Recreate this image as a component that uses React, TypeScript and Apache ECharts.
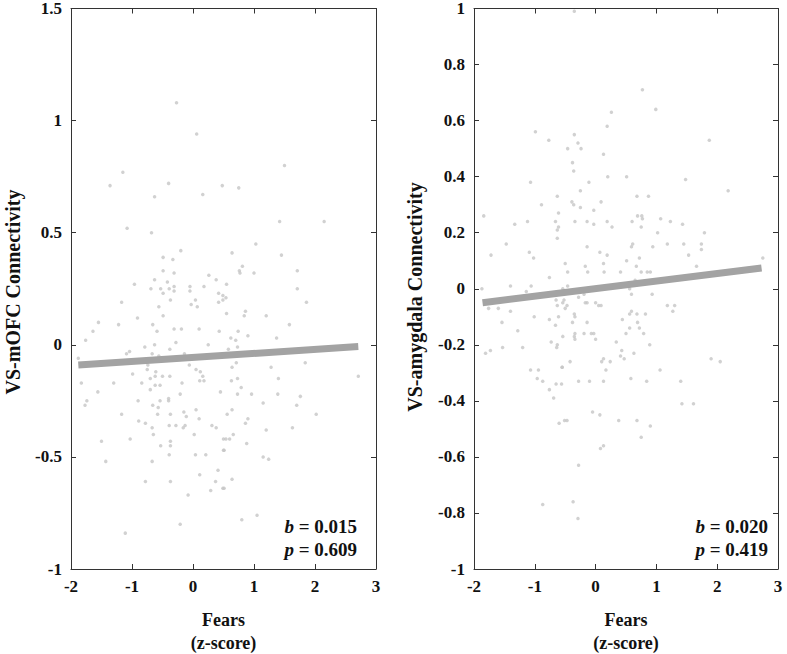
import React, { useEffect, useRef } from "react";
import * as echarts from "echarts";

const xTicks = [-2, -1, 0, 1, 2, 3];
const leftYRange = [-1, 1.5];
const rightYRange = [-1, 1];
const xLabel = ["Fears", "(z-score)"];
const leftYLabel = "VS-mOFC Connectivity";
const rightYLabel = "VS-amygdala Connectivity";
const leftStats = { b: "0.015", p: "0.609" };
const rightStats = { b: "0.020", p: "0.419" };

const leftFitX = [-1.88, 2.71];
const leftFitY = [-0.09, -0.008];
const rightFitX = [-1.86, 2.73];
const rightFitY = [-0.05, 0.074];

const leftPoints: number[][] = [
  [-0.27, 1.08], [0.06, 0.94], [-1.15, 0.77], [-1.36, 0.71], [-0.4, 0.72], [0.48, 0.71], [-0.63, 0.66], [0.16, 0.67],
  [-1.08, 0.52], [-0.68, 0.5], [1.5, 0.8], [0.75, 0.7], [1.42, 0.55], [2.15, 0.55],
  [-0.2, 0.42], [-0.49, 0.39], [-0.33, 0.38], [-0.49, 0.33], [-0.31, 0.32], [0.26, 0.31], [0.38, 0.29], [-0.96, 0.27],
  [-0.63, 0.29], [-0.42, 0.28], [-0.69, 0.25], [-0.53, 0.25], [-0.39, 0.25], [-0.31, 0.26], [-0.31, 0.24], [-0.49, 0.23],
  [-0.05, 0.26], [-0.05, 0.24], [0.18, 0.26], [0.42, 0.23], [0.49, 0.22], [0.49, 0.2], [0.42, 0.19], [-1.17, 0.19],
  [-0.37, 0.2], [0.04, 0.2], [-0.03, 0.18], [0.07, 0.17], [-0.56, 0.17], [-0.49, 0.13], [-0.91, 0.12], [-1.55, 0.1],
  [-1.22, 0.09], [-0.66, 0.09], [-1.64, 0.06], [-0.59, 0.06], [-0.31, 0.07], [-0.19, 0.07], [0.1, 0.07], [0.43, 0.06],
  [-1.76, 0.02], [-0.28, 0.01], [0.25, 0.0], [-1.04, -0.03], [-0.79, -0.01], [-0.63, 0.0], [-0.38, -0.02], [-1.09, -0.04],
  [-0.67, -0.04], [-0.56, -0.05], [-0.14, -0.04], [-1.88, -0.06], [-0.06, -0.09], [-0.74, -0.09], [-0.75, -0.11], [0.05, -0.11],
  [0.12, -0.12], [0.16, -0.14], [0.18, -0.16], [-0.99, -0.13], [-0.61, -0.12], [-0.7, -0.15], [-0.62, -0.14], [-0.5, -0.14],
  [-0.38, -0.14], [0.11, -0.16], [-1.3, -0.17], [-0.84, -0.17], [-0.18, -0.17], [-1.83, -0.17], [-0.62, -0.18], [-0.54, -0.18],
  [-0.7, -0.2], [-1.56, -0.21], [-0.21, -0.22], [0.45, -0.21], [-0.4, -0.24],
  [1.03, 0.45], [0.64, 0.41], [1.45, 0.4], [0.81, 0.35], [0.76, 0.33], [0.77, 0.32], [1.0, 0.32], [1.71, 0.33],
  [0.55, 0.27], [1.71, 0.25], [0.54, 0.21], [1.86, 0.19], [0.86, 0.15], [0.55, 0.14], [0.84, 0.13], [1.2, 0.13],
  [1.58, 0.09], [0.74, 0.06], [0.9, 0.04], [0.62, 0.03], [0.7, 0.02], [1.37, 0.03], [0.73, -0.01], [0.58, -0.02],
  [0.71, -0.08], [0.64, -0.1], [1.28, -0.1], [1.84, -0.08], [2.71, -0.14], [1.4, -0.15], [0.73, -0.15], [0.63, -0.16],
  [0.79, -0.19], [0.73, -0.22], [0.96, -0.22], [1.39, -0.22], [1.76, -0.23],
  [-1.74, -0.25], [-1.77, -0.27], [-0.9, -0.25], [-0.66, -0.27], [-0.57, -0.28], [-0.54, -0.25], [-0.4, -0.25], [-1.17, -0.31],
  [-0.58, -0.31], [-0.37, -0.31], [-0.15, -0.3], [-0.11, -0.32], [0.05, -0.29], [0.1, -0.33], [-0.89, -0.34], [-0.78, -0.35],
  [-0.67, -0.37], [-0.65, -0.4], [-0.39, -0.36], [-0.28, -0.36], [-0.16, -0.37], [-0.13, -0.36], [0.31, -0.36], [0.38, -0.37],
  [0.02, -0.4], [0.5, -0.42], [-1.5, -0.43], [-1.03, -0.42], [-0.37, -0.43], [-0.53, -0.45], [-0.37, -0.45], [0.5, -0.47],
  [-0.39, -0.49], [0.04, -0.49], [0.21, -0.49], [-1.43, -0.52], [-0.67, -0.52], [0.41, -0.56], [0.11, -0.58], [-0.78, -0.61],
  [-0.37, -0.61], [0.37, -0.61], [0.29, -0.65], [0.49, -0.64], [-0.08, -0.67], [-0.21, -0.8], [-1.11, -0.84],
  [1.15, -0.26], [1.7, -0.27], [0.64, -0.29], [0.56, -0.31], [2.02, -0.31], [0.9, -0.33], [0.86, -0.35], [1.2, -0.38],
  [1.63, -0.37], [0.66, -0.4], [0.54, -0.42], [0.6, -0.42], [0.88, -0.44], [0.51, -0.47], [1.15, -0.5], [1.24, -0.51],
  [0.64, -0.6], [0.51, -0.64], [1.05, -0.76], [0.8, -0.78],
];

const rightPoints: number[][] = [
  [-0.35, 0.99], [0.26, 0.63], [0.19, 0.58], [-0.99, 0.56], [-0.35, 0.55], [-0.77, 0.53], [-0.29, 0.52], [-0.46, 0.5],
  [-0.24, 0.5], [0.13, 0.48], [-0.38, 0.45], [-0.36, 0.42], [0.2, 0.4], [0.51, 0.4], [-1.07, 0.38], [-0.11, 0.38],
  [0.77, 0.71], [0.99, 0.64], [1.87, 0.53], [1.48, 0.39],
  [-0.25, 0.35], [-0.63, 0.33], [-0.39, 0.31], [-0.36, 0.3], [-0.25, 0.29], [0.09, 0.31], [-0.89, 0.3], [-0.03, 0.28],
  [-0.61, 0.27], [-1.84, 0.26], [-1.12, 0.24], [-0.66, 0.24], [-0.34, 0.24], [-0.14, 0.24], [-1.33, 0.23], [-0.03, 0.23],
  [0.19, 0.24], [0.27, 0.22], [-0.61, 0.22], [-0.63, 0.21], [-0.63, 0.18], [-1.47, 0.16], [-0.14, 0.15], [-1.09, 0.13],
  [0.07, 0.13], [-1.72, 0.12], [-1.02, 0.11], [0.19, 0.12], [0.51, 0.1], [-0.5, 0.09], [0.13, 0.09], [-0.17, 0.08],
  [-0.13, 0.06], [-0.46, 0.06], [0.14, 0.06], [0.41, 0.06], [-0.76, 0.04], [-0.46, 0.01], [-0.54, 0.0], [-1.06, 0.01],
  [-1.4, 0.01], [-1.87, 0.0], [-1.14, -0.01], [-0.28, -0.03], [-0.19, -0.02], [-0.65, -0.04], [-0.52, -0.04], [-0.14, -0.05],
  [-0.17, -0.05], [0.0, -0.05], [0.09, -0.06], [0.05, -0.06], [-1.76, -0.07], [-1.6, -0.07], [-0.63, -0.06], [-0.54, -0.05],
  [-0.47, -0.06], [-0.5, -0.07], [-1.4, -0.08], [-1.01, -0.1], [-0.61, -0.1], [-0.35, -0.09], [-0.34, -0.1], [-0.76, -0.11],
  [0.44, -0.11], [-1.54, -0.12], [-0.66, -0.13], [-0.38, -0.12], [-0.14, -0.12], [-1.28, -0.15], [-0.34, -0.16], [-0.35, -0.17],
  [-0.19, -0.16], [-0.07, -0.16], [-0.03, -0.16], [0.5, -0.16], [-0.54, -0.17], [-0.34, -0.18], [0.0, -0.18], [-0.73, -0.19],
  [0.34, -0.19], [-0.63, -0.2], [-0.64, -0.21], [-1.53, -0.21], [-1.2, -0.21], [-1.73, -0.22], [-1.81, -0.23], [0.43, -0.22],
  [0.41, -0.24], [0.47, -0.25], [0.1, -0.26], [0.13, -0.25], [0.24, -0.26], [-0.42, -0.26], [-0.55, -0.28],
  [2.18, 0.35], [0.68, 0.33], [0.87, 0.33], [0.69, 0.26], [0.76, 0.26], [0.77, 0.25], [0.6, 0.24], [1.07, 0.25],
  [1.23, 0.24], [1.43, 0.23], [0.75, 0.22], [1.79, 0.2], [1.02, 0.2], [0.59, 0.15], [0.61, 0.16], [0.94, 0.15],
  [1.18, 0.16], [1.45, 0.16], [1.74, 0.16], [1.74, 0.14], [1.53, 0.12], [0.72, 0.11], [2.75, 0.11], [1.66, 0.08],
  [0.67, 0.08], [0.75, 0.06], [0.85, 0.06], [0.9, 0.06], [0.65, 0.03], [0.56, 0.0], [0.59, -0.02], [0.93, -0.02],
  [1.18, -0.06], [1.3, -0.06], [1.27, -0.08], [0.56, -0.09], [0.59, -0.08], [0.68, -0.09], [0.82, -0.09], [0.69, -0.12],
  [0.56, -0.14], [0.72, -0.14], [0.79, -0.16], [0.89, -0.2], [0.63, -0.23], [1.9, -0.25], [2.05, -0.26],
  [-1.07, -0.29], [-0.94, -0.29], [-0.55, -0.28], [0.17, -0.29], [-0.96, -0.32], [-0.87, -0.33], [-0.65, -0.34], [-0.56, -0.34],
  [-0.28, -0.33], [-0.1, -0.33], [0.13, -0.33], [-0.76, -0.36], [-0.69, -0.39], [-0.05, -0.44], [0.07, -0.45], [0.38, -0.47],
  [-0.6, -0.48], [-0.51, -0.47], [-0.47, -0.47], [0.13, -0.56], [0.08, -0.57], [-0.28, -0.63], [-0.87, -0.77], [-0.37, -0.76],
  [-0.29, -0.82],
  [1.06, -0.29], [0.58, -0.32], [0.84, -0.33], [1.4, -0.33], [1.42, -0.41], [1.61, -0.41], [0.68, -0.47], [0.9, -0.49],
  [0.75, -0.53],
];

const FONT = "'Liberation Serif', 'Times New Roman', serif";
const AXIS_COLOR = "#333";
const POINT_COLOR = "#c6c6c6";
const LINE_COLOR = "#a3a3a3";

const grids = [
  { left: 71, top: 7, width: 305, height: 562 },
  { left: 474, top: 7, width: 304, height: 562 },
];

function fmt(v: number) {
  const r = Math.round(v * 10) / 10;
  return String(r);
}

export default function App() {
  const ref = useRef<HTMLDivElement>(null);
  useEffect(() => {
    if (!ref.current) return;
    const chart = echarts.init(ref.current, null, { renderer: "svg" });
    const labelStyle = { color: "#111", fontFamily: FONT, fontWeight: "bold" as const, fontSize: 17 };
    const mkX = (gi: number, pos: "bottom" | "top", show: boolean) => ({
      type: "value" as const,
      gridIndex: gi,
      position: pos,
      min: xTicks[0],
      max: xTicks[xTicks.length - 1],
      interval: 1,
      axisLine: { show: true, onZero: false, lineStyle: { color: AXIS_COLOR, width: 1 } },
      axisTick: { show: true, inside: true, length: 5, lineStyle: { color: AXIS_COLOR } },
      axisLabel: { show, margin: 9, ...labelStyle },
      splitLine: { show: false },
    });
    const mkY = (gi: number, pos: "left" | "right", range: number[], interval: number, show: boolean) => ({
      type: "value" as const,
      gridIndex: gi,
      position: pos,
      min: range[0],
      max: range[1],
      interval,
      axisLine: { show: true, onZero: false, lineStyle: { color: AXIS_COLOR, width: 1 } },
      axisTick: { show: true, inside: true, length: 5, lineStyle: { color: AXIS_COLOR } },
      axisLabel: { show, margin: 9, formatter: fmt, ...labelStyle },
      splitLine: { show: false },
    });
    const statText = (x: number, y: number, s: { b: string; p: string }) => ({
      type: "text" as const,
      x,
      y,
      style: {
        text: `{i|b}{n| = ${s.b}}\n{i|p}{n| = ${s.p}}`,
        align: "right" as const,
        verticalAlign: "top" as const,
        lineHeight: 23,
        rich: {
          i: { fontFamily: FONT, fontStyle: "italic", fontWeight: "bold", fontSize: 19, fill: "#111", lineHeight: 23 },
          n: { fontFamily: FONT, fontWeight: "bold", fontSize: 19, fill: "#111", lineHeight: 23 },
        },
      },
    });
    const xName = (cx: number) => ({
      type: "text" as const,
      x: cx,
      y: 608,
      style: {
        text: xLabel.join("\n"),
        align: "center" as const,
        verticalAlign: "top" as const,
        lineHeight: 23,
        font: `bold 18px ${FONT}`,
        fill: "#111",
      },
    });
    const yName = (cx: number, cy: number, text: string) => ({
      type: "text" as const,
      x: cx,
      y: cy,
      rotation: Math.PI / 2,
      style: {
        text,
        align: "center" as const,
        verticalAlign: "middle" as const,
        font: `bold 20px ${FONT}`,
        fill: "#111",
      },
    });
    chart.setOption({
      animation: false,
      grid: grids,
      xAxis: [mkX(0, "bottom", true), mkX(0, "top", false), mkX(1, "bottom", true), mkX(1, "top", false)],
      yAxis: [
        mkY(0, "left", leftYRange, 0.5, true),
        mkY(0, "right", leftYRange, 0.5, false),
        mkY(1, "left", rightYRange, 0.2, true),
        mkY(1, "right", rightYRange, 0.2, false),
      ],
      series: [
        {
          type: "scatter",
          xAxisIndex: 0,
          yAxisIndex: 0,
          data: leftPoints,
          symbolSize: 3.5,
          itemStyle: { color: POINT_COLOR },
        },
        {
          type: "line",
          xAxisIndex: 0,
          yAxisIndex: 0,
          data: leftFitX.map((x, i) => [x, leftFitY[i]]),
          symbol: "none",
          lineStyle: { color: LINE_COLOR, width: 7 },
        },
        {
          type: "scatter",
          xAxisIndex: 2,
          yAxisIndex: 2,
          data: rightPoints,
          symbolSize: 3.5,
          itemStyle: { color: POINT_COLOR },
        },
        {
          type: "line",
          xAxisIndex: 2,
          yAxisIndex: 2,
          data: rightFitX.map((x, i) => [x, rightFitY[i]]),
          symbol: "none",
          lineStyle: { color: LINE_COLOR, width: 7 },
        },
      ],
      graphic: [
        statText(357, 515, leftStats),
        statText(768, 515, rightStats),
        xName(223.5),
        xName(626),
        yName(13, 292, leftYLabel),
        yName(415, 297, rightYLabel),
      ],
    });
    return () => chart.dispose();
  }, []);
  return <div ref={ref} style={{ width: 787, height: 654, position: "absolute", left: 0, top: 0 }} />;
}
